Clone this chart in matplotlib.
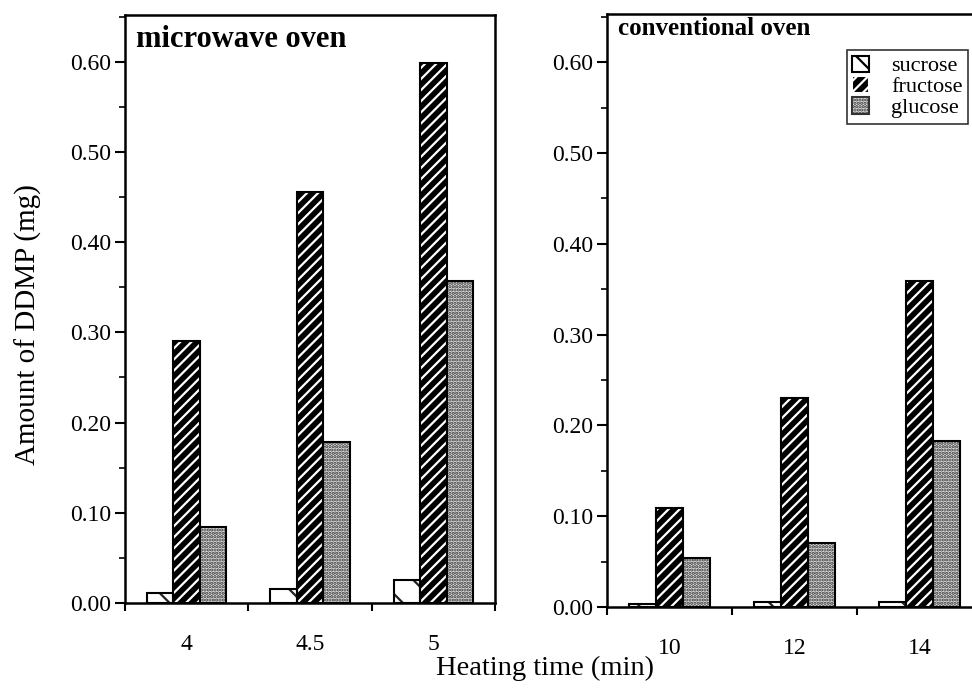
import numpy as np
import matplotlib.pyplot as plt
from matplotlib.patches import Patch
from matplotlib.ticker import MultipleLocator, FixedLocator, NullFormatter, FixedFormatter

plt.rcParams['font.family'] = ['Liberation Serif', 'DejaVu Serif']
plt.rcParams['hatch.linewidth'] = 1.6

# data (mg DDMP)
mw_times = ['4', '4.5', '5']
mw_sucrose = [0.011, 0.016, 0.025]
mw_fructose = [0.290, 0.456, 0.599]
mw_glucose = [0.084, 0.179, 0.357]

cv_times = ['10', '12', '14']
cv_sucrose = [0.003, 0.006, 0.006]
cv_fructose = [0.109, 0.230, 0.359]
cv_glucose = [0.054, 0.070, 0.183]

fig = plt.figure(figsize=(9.72, 6.91), dpi=100)
ax1 = fig.add_axes([0.1286, 0.1274, 0.3807, 0.851])
ax2 = fig.add_axes([0.6245, 0.1216, 0.3858, 0.858])

w = 0.215


def draw_panel(ax, labels, suc, fru, glu, title, ytop, tsize, ty):
    x = np.arange(len(labels))
    # sucrose: white with sparse broken hatch
    ax.bar(x - w, suc, w, color='white', edgecolor='#222222', hatch='\\', linewidth=0, zorder=2)
    ax.bar(x - w, suc, w, fill=False, edgecolor='black', linewidth=1.5, zorder=3)
    # fructose: black with white diagonals
    ax.bar(x, fru, w, color='black', edgecolor='white', hatch='///', linewidth=0, zorder=2)
    ax.bar(x, fru, w, fill=False, edgecolor='black', linewidth=1.5, zorder=3)
    # glucose: stippled
    ax.bar(x + w, glu, w, color='#e0e0e0', edgecolor='#333333', hatch='.....', linewidth=0, zorder=2)
    ax.bar(x + w, glu, w, fill=False, edgecolor='black', linewidth=1.5, zorder=3)

    ax.set_xlim(-0.5, len(labels) - 0.5)
    ax.set_ylim(0, ytop)
    ax.xaxis.set_major_locator(FixedLocator(np.arange(len(labels) + 1) - 0.5))
    ax.xaxis.set_major_formatter(NullFormatter())
    ax.xaxis.set_minor_locator(FixedLocator(x))
    ax.xaxis.set_minor_formatter(FixedFormatter(labels))
    ax.tick_params(axis='x', which='major', direction='out', length=6, width=1.5)
    ax.tick_params(axis='x', which='minor', length=0, pad=22, labelsize=17)
    ax.yaxis.set_major_locator(MultipleLocator(0.1))
    ax.yaxis.set_minor_locator(MultipleLocator(0.05))
    ax.yaxis.set_major_formatter(lambda v, p: f'{v:.2f}')
    ax.tick_params(axis='y', which='major', direction='out', length=7, width=1.5, labelsize=17, pad=3)
    ax.tick_params(axis='y', which='minor', direction='out', length=4, width=1.2)
    for s in ax.spines.values():
        s.set_linewidth(1.8)
    ax.text(0.03, ty, title, transform=ax.transAxes, ha='left', va='top',
            fontsize=tsize, fontweight='bold')


draw_panel(ax1, mw_times, mw_sucrose, mw_fructose, mw_glucose, 'microwave oven', 0.652, 22, 0.983)
draw_panel(ax2, cv_times, cv_sucrose, cv_fructose, cv_glucose, 'conventional oven', 0.653, 18, 0.995)

handles = [
    Patch(facecolor='white', edgecolor='black', hatch='\\', linewidth=1.5, label='sucrose'),
    Patch(facecolor='black', edgecolor='white', hatch='///', linewidth=1.5, label='fructose'),
    Patch(facecolor='#e0e0e0', edgecolor='#333333', hatch='.....', linewidth=1.5, label='glucose'),
]
leg = ax2.legend(handles=handles, loc='upper right', bbox_to_anchor=(968 / 972, 1 - 50 / 691),
                 bbox_transform=fig.transFigure, fontsize=16, frameon=True, fancybox=False,
                 edgecolor='black', handlelength=0.75, handleheight=0.75, handletextpad=1.0,
                 labelspacing=0.0, borderpad=0.25, borderaxespad=0)
leg.get_frame().set_linewidth(1.2)

fig.text(0.561, 0.033, 'Heating time (min)', ha='center', va='center', fontsize=20.5)
fig.text(0.029, 0.53, 'Amount of DDMP (mg)', ha='center', va='center', rotation=90, fontsize=21)

fig.savefig('out.png', dpi=100)
